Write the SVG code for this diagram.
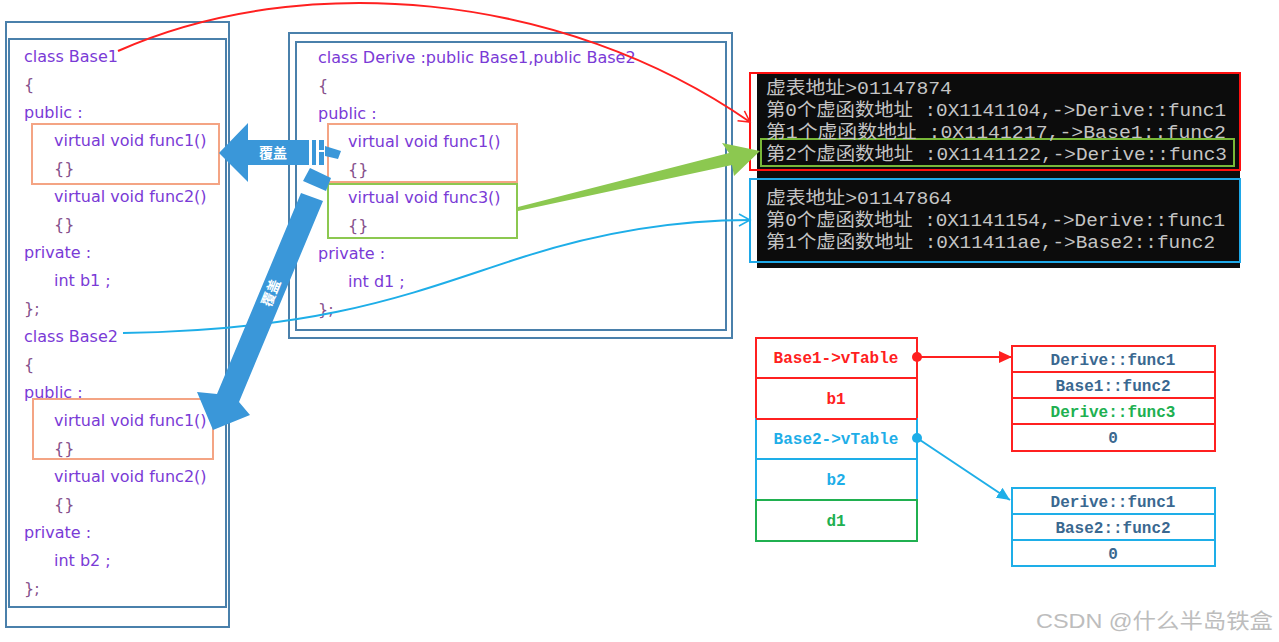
<svg xmlns="http://www.w3.org/2000/svg" width="1279" height="642" viewBox="0 0 1279 642">
<defs>
<style>
.frame{fill:none;stroke:#4a80ab;stroke-width:2}
.code{font-family:"DejaVu Sans","Noto Sans",sans-serif;font-size:16px;fill:#7a3ad6}
.brace{fill:#86508c}
.obox{fill:none;stroke:#f4a484;stroke-width:2}
.gbox{fill:none;stroke:#8cc850;stroke-width:2}
.con{font-family:"Liberation Mono","Noto Sans CJK SC",monospace;font-size:18px;fill:#c4c4c4}
.mem{font-family:"Liberation Mono","Noto Sans CJK SC",monospace;font-size:16px;font-weight:bold;text-anchor:middle}
.tab{font-family:"Liberation Mono","Noto Sans CJK SC",monospace;font-size:16px;font-weight:bold;text-anchor:middle;fill:#3a6890}
.cover{font-family:"Noto Sans CJK SC",sans-serif;font-size:14px;font-weight:bold;fill:#ffffff;text-anchor:middle}
</style>
<marker id="openRed" markerWidth="14" markerHeight="14" refX="12" refY="7" orient="auto" markerUnits="userSpaceOnUse">
<path d="M1,1 L12,7 L1,13" fill="none" stroke="#ff2020" stroke-width="1.5"/>
</marker>
<marker id="openBlue" markerWidth="14" markerHeight="14" refX="12" refY="7" orient="auto" markerUnits="userSpaceOnUse">
<path d="M1,1 L12,7 L1,13" fill="none" stroke="#1eaee8" stroke-width="1.5"/>
</marker>
<marker id="triRed" markerWidth="14" markerHeight="12" refX="13" refY="6" orient="auto" markerUnits="userSpaceOnUse">
<path d="M0,0 L13,6 L0,12 Z" fill="#ff2020"/>
</marker>
<marker id="triBlue" markerWidth="14" markerHeight="12" refX="13" refY="6" orient="auto" markerUnits="userSpaceOnUse">
<path d="M0,0 L13,6 L0,12 Z" fill="#1eaee8"/>
</marker>
</defs>
<rect width="1279" height="642" fill="#ffffff"/>

<g id="base-classes">
<rect class="frame" x="6" y="22" width="223" height="605"/>
<rect class="frame" x="9" y="39" width="217" height="568"/>
<rect class="obox" x="32" y="124" width="187" height="60"/>
<rect class="obox" x="33" y="399" width="180" height="60"/>
<g class="code">
<text x="24" y="62">class Base1</text>
<text x="24" y="90" class="brace">{</text>
<text x="24" y="118">public :</text>
<text x="54" y="146">virtual void func1()</text>
<text x="54" y="174" class="brace">{}</text>
<text x="54" y="202">virtual void func2()</text>
<text x="54" y="230" class="brace">{}</text>
<text x="24" y="258">private :</text>
<text x="54" y="286">int b1 ;</text>
<text x="24" y="314" class="brace">};</text>
<text x="24" y="342">class Base2</text>
<text x="24" y="370" class="brace">{</text>
<text x="24" y="398">public :</text>
<text x="54" y="426">virtual void func1()</text>
<text x="54" y="454" class="brace">{}</text>
<text x="54" y="482">virtual void func2()</text>
<text x="54" y="510" class="brace">{}</text>
<text x="24" y="538">private :</text>
<text x="54" y="566">int b2 ;</text>
<text x="24" y="594" class="brace">};</text>
</g>
</g>

<g id="derive-class">
<rect class="frame" x="289" y="33" width="443" height="305"/>
<rect class="frame" x="296" y="42" width="430" height="288"/>
<rect class="obox" x="328" y="124" width="189" height="58"/>
<rect class="gbox" x="328" y="184" width="189" height="54"/>
<g class="code">
<text x="318" y="63">class Derive :public Base1,public Base2</text>
<text x="318" y="91" class="brace">{</text>
<text x="318" y="119">public :</text>
<text x="348" y="147">virtual void func1()</text>
<text x="348" y="175" class="brace">{}</text>
<text x="348" y="203">virtual void func3()</text>
<text x="348" y="231" class="brace">{}</text>
<text x="318" y="259">private :</text>
<text x="348" y="287">int d1 ;</text>
<text x="318" y="315" class="brace">};</text>
</g>
</g>

<g id="console">
<rect x="757" y="73" width="483" height="195" fill="#0c0c0c"/>
<rect x="750" y="73" width="490" height="97" fill="none" stroke="#ff1010" stroke-width="2"/>
<rect x="750" y="179" width="490" height="83" fill="none" stroke="#1ea8e8" stroke-width="2"/>
<rect x="761" y="139" width="473" height="27" fill="none" stroke="#78b838" stroke-width="2"/>
<text class="con" x="766" y="94" textLength="186" lengthAdjust="spacingAndGlyphs">虚表地址&gt;01147874</text>
<text class="con" x="766" y="116" textLength="460" lengthAdjust="spacingAndGlyphs">第0个虚函数地址 :0X1141104,-&gt;Derive::func1</text>
<text class="con" x="766" y="138" textLength="460" lengthAdjust="spacingAndGlyphs">第1个虚函数地址 :0X1141217,-&gt;Base1::func2</text>
<text class="con" x="766" y="160" textLength="461" lengthAdjust="spacingAndGlyphs">第2个虚函数地址 :0X1141122,-&gt;Derive::func3</text>
<text class="con" x="766" y="204" textLength="186" lengthAdjust="spacingAndGlyphs">虚表地址&gt;01147864</text>
<text class="con" x="766" y="226" textLength="459" lengthAdjust="spacingAndGlyphs">第0个虚函数地址 :0X1141154,-&gt;Derive::func1</text>
<text class="con" x="766" y="248" textLength="449" lengthAdjust="spacingAndGlyphs">第1个虚函数地址 :0X11411ae,-&gt;Base2::func2</text>
</g>

<g id="object-layout">
<rect x="756" y="338" width="161" height="81" fill="none" stroke="#ff2020" stroke-width="2"/>
<line x1="756" y1="378" x2="917" y2="378" stroke="#ff2020" stroke-width="2"/>
<rect x="756" y="419" width="161" height="81" fill="none" stroke="#1eaee8" stroke-width="2"/>
<line x1="756" y1="459" x2="917" y2="459" stroke="#1eaee8" stroke-width="2"/>
<rect x="756" y="500" width="161" height="41" fill="none" stroke="#20b050" stroke-width="2"/>
<line x1="756" y1="419" x2="917" y2="419" stroke="#ff2020" stroke-width="2"/>
<text class="mem" x="836" y="363" fill="#ff2020">Base1-&gt;vTable</text>
<text class="mem" x="836" y="404" fill="#ff2020">b1</text>
<text class="mem" x="836" y="444" fill="#1eaee8">Base2-&gt;vTable</text>
<text class="mem" x="836" y="485" fill="#1eaee8">b2</text>
<text class="mem" x="836" y="526" fill="#20b050">d1</text>
</g>

<g id="vtable-base1">
<rect x="1012" y="346" width="203" height="105" fill="none" stroke="#ff2020" stroke-width="2"/>
<line x1="1012" y1="372" x2="1215" y2="372" stroke="#ff2020" stroke-width="2"/>
<line x1="1012" y1="398" x2="1215" y2="398" stroke="#ff2020" stroke-width="2"/>
<line x1="1012" y1="424" x2="1215" y2="424" stroke="#ff2020" stroke-width="2"/>
<text class="tab" x="1113" y="365">Derive::func1</text>
<text class="tab" x="1113" y="391">Base1::func2</text>
<text class="tab" x="1113" y="417" style="fill:#20b050">Derive::func3</text>
<text class="tab" x="1113" y="443">0</text>
</g>

<g id="vtable-base2">
<rect x="1012" y="488" width="203" height="78" fill="none" stroke="#1eaee8" stroke-width="2"/>
<line x1="1012" y1="514" x2="1215" y2="514" stroke="#1eaee8" stroke-width="2"/>
<line x1="1012" y1="540" x2="1215" y2="540" stroke="#1eaee8" stroke-width="2"/>
<text class="tab" x="1113" y="507">Derive::func1</text>
<text class="tab" x="1113" y="533">Base2::func2</text>
<text class="tab" x="1113" y="559">0</text>
</g>

<g id="connectors">
<path d="M118,51 C300,-30 560,-10 750,122" fill="none" stroke="#ff2020" stroke-width="2" marker-end="url(#openRed)"/>
<path d="M123,333 C330,330 420,290 520,258 C600,232 680,220 750,220" fill="none" stroke="#1eaee8" stroke-width="2" marker-end="url(#openBlue)"/>
<polygon points="518,207 729,153 722,143 760,151 734,176 732,165 518,211" fill="#8cc850"/>
<circle cx="917" cy="357" r="5" fill="#ff2020"/>
<line x1="917" y1="357" x2="1012" y2="357" stroke="#ff2020" stroke-width="2" marker-end="url(#triRed)"/>
<circle cx="917" cy="438" r="5" fill="#1eaee8"/>
<line x1="917" y1="438" x2="1010" y2="500" stroke="#1eaee8" stroke-width="2" marker-end="url(#triBlue)"/>
<g id="override-arrows" fill="#3a97d9">
<polygon points="219,153 248,123 248,140 309,140 309,165 248,165 248,182"/>
<rect x="312" y="140" width="4" height="25"/>
<rect x="319" y="140" width="5" height="10"/>
<rect x="319" y="152" width="5" height="13"/>
<polygon points="325,146 341,151 338,159 325,156"/>
<polygon points="301,193 323,201 239,402 250,415 213,430 197,392 217,394"/>
<polygon points="310,168 331,178 326,191 303,181"/>
<text class="cover" x="273" y="158">覆盖</text>
<text class="cover" x="0" y="0" transform="translate(271,293) rotate(-68) translate(0,5)">覆盖</text>
</g>
</g>

<text x="1036" y="628" font-family="Liberation Sans,Noto Sans CJK SC,sans-serif" font-size="21" fill="#bdbdbd" textLength="237" lengthAdjust="spacingAndGlyphs">CSDN @什么半岛铁盒</text>
</svg>
